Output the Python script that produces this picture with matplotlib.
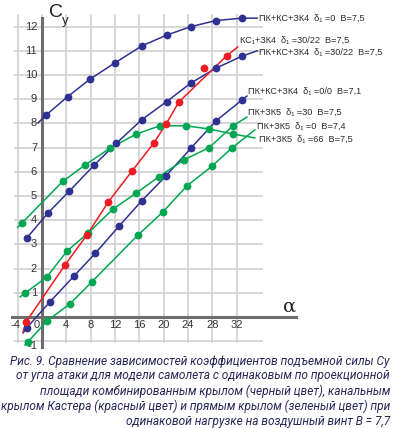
import numpy as np
import matplotlib.pyplot as plt

# --- данные ---
# ПК+КС+ЗК4 d=0 B=7,5
b1_a = [0.7, 4.2, 7.9, 12.0, 16.4, 20.5, 24.5, 28.6, 32.9]
b1_c = [8.35, 9.1, 9.83, 10.5, 11.2, 11.65, 12.0, 12.25, 12.35]
# ПК+КС+ЗК4 d=30/22 B=7,5
b2_a = [-2.5, 1.0, 4.5, 8.6, 12.2, 16.4, 20.5, 24.5, 28.6, 32.9]
b2_c = [3.26, 4.3, 5.2, 6.28, 7.17, 8.15, 8.9, 9.67, 10.28, 10.78]
# ПК+КС+ЗК4 d=0/0 B=7,1
b3_a = [-2.5, 1.3, 5.3, 8.8, 12.7, 16.4, 20.4, 24.5, 28.6, 32.9]
b3_c = [-0.45, 0.62, 1.7, 2.64, 3.76, 4.8, 5.83, 6.98, 8.1, 8.97]
# КС1+ЗК4 d=30/22 B=7,5
r_a = [-2.6, 3.8, 7.4, 10.9, 14.8, 18.4, 20.4, 22.5, 26.6, 30.4]
r_c = [-0.2, 2.15, 3.39, 4.75, 6.03, 7.19, 7.97, 8.88, 10.3, 10.8]
r_outlier = 8  # точка, через которую линия не проходит
# ПК+ЗК5 d=66 B=7,5
g1_a = [-3.3, 3.4, 7.1, 11.2, 15.5, 19.4, 23.7, 27.5, 31.4]
g1_c = [3.88, 5.6, 6.28, 6.98, 7.56, 7.9, 7.9, 7.77, 7.56]
# ПК+ЗК5 d=30 B=7,5
g2_a = [-2.8, 0.8, 4.1, 7.6, 11.7, 15.5, 19.2, 23.4, 27.5, 31.4]
g2_c = [0.98, 1.65, 2.72, 3.47, 4.46, 5.12, 5.79, 6.5, 7.0, 7.9]
# ПК+ЗК5 d=0 B=7,4
g3_a = [-2.3, 0.8, 4.6, 8.2, 15.8, 19.9, 23.8, 28.0, 31.2]
g3_c = [-1.03, -0.17, 0.54, 1.45, 3.39, 4.34, 5.41, 6.24, 6.98]

# концы линий (начало, конец)
b1_ends = [(-0.65, 8.02), (35.4, 12.35)]
b2_ends = [(-2.5, 3.26), (35.4, 11.0)]
b3_ends = [(-3.1, -0.66), (33.7, 9.13)]
r_ends = [(-3.1, -0.62), (32.2, 11.16)]
g1_ends = [(-4.0, 3.7), (35.0, 7.4)]
g2_ends = [(-3.6, 0.83), (33.7, 8.26)]
g3_ends = [(-2.8, -1.16), (35.0, 7.73)]

labels = ["ПК+КС+ЗК4  δ₁ =0  B=7,5",
          "КС₁+ЗК4  δ₁ =30/22  B=7,5",
          "ПК+КС+ЗК4  δ₁ =30/22  B=7,5",
          "ПК+КС+ЗК4  δ₁ =0/0  B=7,1",
          "ПК+ЗК5  δ₁ =30  B=7,5",
          "ПК+ЗК5  δ₁ =0  B=7,4",
          "ПК+ЗК5  δ₁ =66  B=7,5"]
label_pos = [(35.7, 12.36), (32.6, 11.45), (35.7, 10.95), (33.9, 9.34),
             (33.9, 8.47), (35.4, 7.89), (35.7, 7.36)]

x_ticks = [-4, 0, 4, 8, 12, 16, 20, 24, 28, 32]
y_ticks = [-1, 1, 2, 3, 4, 5, 6, 7, 8, 9, 10, 11, 12]

caption = ["Рис. 9. Сравнение зависимостей коэффициентов подъемной силы Су",
           "от угла атаки для модели самолета с одинаковым по проекционной",
           "площади комбинированным крылом (черный цвет), канальным",
           "крылом Кастера (красный цвет) и прямым крылом (зеленый цвет) при",
           "одинаковой нагрузке на воздушный винт B = 7,7"]

BLUE = "#2e3192"
RED = "#ed1c24"
GREEN = "#00a651"

fig = plt.figure(figsize=(3.95, 4.28), dpi=100)
ax = fig.add_axes([0, 0, 1, 1])
ax.set_xlim(-6.9, 58.05)
ax.set_ylim(-4.59, 13.1)
ax.axis("off")

# сетка
grid_c = "#cfcfcf"
for xv in x_ticks:
    ax.plot([xv, xv], [-1.05, 12.5], color=grid_c, lw=1.2, zorder=1)
for yv in range(-1, 13):
    ax.plot([-4.4, 36.2], [yv, yv], color=grid_c, lw=1.2, zorder=1)

# оси
ax.plot([0, 0], [-1.24, 12.36], color="#6d6d6d", lw=2.2, zorder=2)
ax.plot([-5.0, 41.8], [0, 0], color="#6d6d6d", lw=2.2, zorder=2)


def draw(a, c, ends, color, skip=None):
    la = [a[i] for i in range(len(a)) if i != skip]
    lc = [c[i] for i in range(len(c)) if i != skip]
    la = [ends[0][0]] + la + [ends[1][0]]
    lc = [ends[0][1]] + lc + [ends[1][1]]
    ax.plot(la, lc, color=color, lw=1.1, zorder=3)
    ax.plot(a, c, "o", color=color, ms=5.6, mec="none", zorder=4)


draw(b1_a, b1_c, b1_ends, BLUE)
draw(b2_a, b2_c, b2_ends, BLUE)
draw(b3_a, b3_c, b3_ends, BLUE)
draw(g1_a, g1_c, g1_ends, GREEN)
draw(g2_a, g2_c, g2_ends, GREEN)
draw(g3_a, g3_c, g3_ends, GREEN)
draw(r_a, r_c, r_ends, RED, skip=r_outlier)

# подписи кривых
for txt, (px, py) in zip(labels, label_pos):
    ax.text(px, py, txt, fontsize=6.6, family=["Liberation Sans", "DejaVu Sans"],
            color="#2b2b2b", ha="left", va="center", zorder=5)

# подписи делений
tick_font = ["Liberation Sans", "DejaVu Sans"]
for xv in x_ticks:
    xp = xv
    if xv == 0:
        xp = -0.8
    if xv == -4:
        xp = -4.4
    ax.text(xp, -0.33, str(xv), fontsize=8, family=tick_font, color="#333333",
            ha="center", va="center")
for yv in y_ticks:
    if yv == -1:
        ax.text(-0.8, -1.2, "-1", fontsize=8, family=tick_font, color="#333333",
                ha="right", va="center")
    else:
        ax.text(-0.8, yv, str(yv), fontsize=8, family=tick_font, color="#333333",
                ha="right", va="center")

ax.text(2.3, 12.6, "C", fontsize=14, family=tick_font, color="#222222",
        ha="center", va="center")
ax.text(3.9, 12.25, "y", fontsize=9.5, family=tick_font, color="#222222",
        ha="center", va="center")
ax.text(40.8, 0.41, "α", fontsize=14, family=["DejaVu Serif"], color="#222222",
        ha="center", va="center")

# подпись рисунка
cap_y = [361, 376, 391, 406, 421]
for line, yp in zip(caption, cap_y):
    fig.text(390 / 395, 1 - yp / 428, line, fontsize=8.6, style="italic",
             family=["Roboto", "DejaVu Sans"], color="#27275a",
             ha="right", va="center")

fig.savefig("out.png", dpi=100)
